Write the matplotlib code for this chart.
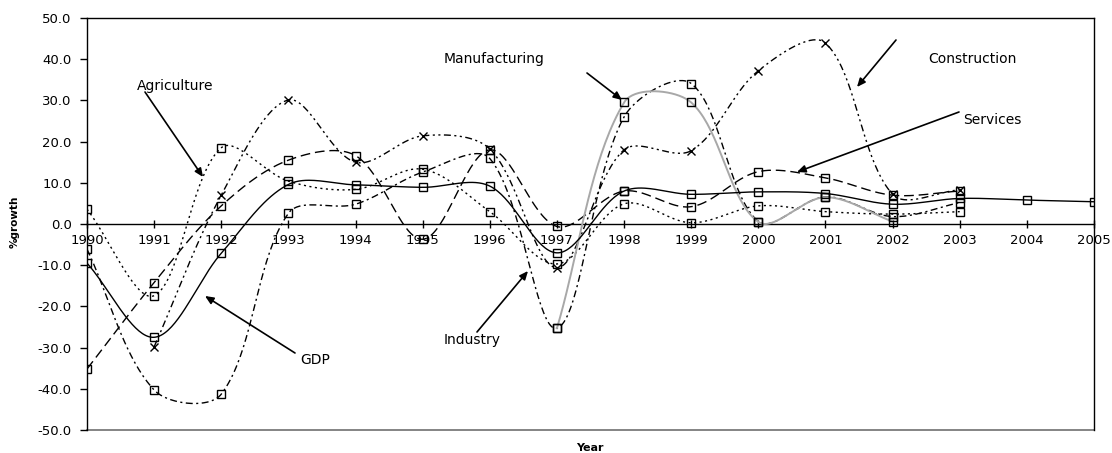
import numpy as np
import matplotlib
matplotlib.use("Agg")
import matplotlib.pyplot as plt

plt.rcParams['font.family'] = ['DejaVu Sans']

# ---- data ----
gdp_years = list(range(1990, 2006))
gdp = [-9.5, -27.5, -7.1, 9.6, 9.5, 8.9, 9.2, -7.0, 8.0, 7.2, 7.8, 7.4, 4.8, 6.2, 5.8, 5.4]

agri_years = list(range(1990, 2004))
agriculture = [3.6, -17.4, 18.5, 10.4, 8.4, 13.3, 3.0, -9.7, 4.9, 0.3, 4.4, 3.0, 2.4, 3.0]

ind_years = list(range(1990, 2004))
industry = [-6.1, -40.3, -41.3, 2.6, 4.8, 12.6, 15.9, -25.3, 26.0, 34.1, 0.6, 6.6, 1.8, 5.2]

serv_years = list(range(1990, 2004))
services = [-35.2, -14.2, 4.4, 15.5, 16.6, -3.7, 18.0, -0.6, 8.0, 4.2, 12.7, 11.2, 7.0, 8.0]

cons_years = list(range(1991, 2004))
construction = [-29.8, 7.0, 30.1, 15.0, 21.4, 18.2, -10.6, 18.0, 17.8, 37.2, 43.9, 7.2, 8.3]

manu_years = list(range(1997, 2003))
manufacturing = [-25.3, 29.5, 29.5, 0.5, 6.5, 0.6]

year_ticks = list(range(1990, 2006))
y_ticks = list(range(-50, 51, 10))

W, H = 1112, 453
L, R, T, B = 87, 1094, 18, 430
SX = (R - L) / 15.0      # pixels per year
SY = (B - T) / 100.0     # pixels per % point


def smooth(xs, ys, n=40):
    """Excel-style smoothed line: Bezier segments whose control points follow the
    neighbour chord, scaled by the on-screen segment lengths."""
    P = np.column_stack([np.asarray(xs, float), np.asarray(ys, float)])
    S = np.array([SX, SY])
    m = len(P)

    def dist(a, b):
        return float(np.hypot(*((b - a) * S)))

    out = [P[0]]
    t = np.linspace(0, 1, n)[1:, None]
    for i in range(m - 1):
        p0 = P[i]
        p3 = P[i + 1]
        prev = P[i - 1] if i > 0 else P[i]
        nxt = P[i + 2] if i + 2 < m else P[i + 1]
        d_prev, d_cur, d_next = dist(prev, p0), dist(p0, p3), dist(p3, nxt)
        f1 = d_cur / (d_prev + d_cur) / 3.0 if (d_prev + d_cur) > 0 else 0
        f2 = d_cur / (d_cur + d_next) / 3.0 if (d_cur + d_next) > 0 else 0
        c1 = p0 + (p3 - prev) * f1
        c2 = p3 - (nxt - p0) * f2
        seg = ((1 - t) ** 3) * p0 + 3 * ((1 - t) ** 2) * t * c1 + 3 * (1 - t) * t ** 2 * c2 + t ** 3 * p3
        out.extend(seg)
    out = np.array(out)
    return out[:, 0], out[:, 1]


fig = plt.figure(figsize=(W / 100, H / 100), dpi=100)
ax = fig.add_axes([L / W, 1 - B / H, (R - L) / W, (B - T) / H])
ax.set_xlim(1990, 2005)
ax.set_ylim(-50, 50)

series = [
    (serv_years, services, dict(color='black', lw=1.0, dashes=(7, 3.5)), 's'),
    (cons_years, construction, dict(color='black', lw=1.0, dashes=(5, 2.5, 1.5, 2.5, 1.5, 2.5)), 'x'),
    (ind_years, industry, dict(color='black', lw=1.0, dashes=(5, 2.5, 1.5, 2.5)), 's'),
    (agri_years, agriculture, dict(color='black', lw=1.0, dashes=(1.5, 2.5)), 's'),
    (manu_years, manufacturing, dict(color='#a8a8a8', lw=1.4), 's'),
    (gdp_years, gdp, dict(color='black', lw=1.0), 's'),
]
for xs, ys, style, mk in series:
    sx, sy = smooth(xs, ys)
    ax.plot(sx, sy, zorder=3, **style)
    if mk == 's':
        ax.plot(xs, ys, linestyle='none', marker='s', markersize=5.5, mfc='none',
                mec='black', mew=1.0, zorder=4)
    else:
        ax.plot(xs, ys, linestyle='none', marker='x', markersize=6, mec='black',
                mew=1.0, zorder=4)

# axes / frame
ax.spines['bottom'].set_position(('data', 0))
ax.spines['bottom'].set_linewidth(1.0)
for s in ['left', 'top', 'right']:
    ax.spines[s].set_color('black')
    ax.spines[s].set_linewidth(1.0)
ax.axhline(-50, color='#707070', lw=1.2, clip_on=False, zorder=1)

ax.set_xticks(year_ticks)
ax.set_xticklabels([str(y) for y in year_ticks])
ax.tick_params(axis='x', direction='inout', length=6, width=1, pad=4, labelsize=9.5)
ax.set_yticks(y_ticks)
ax.set_yticklabels(['%.1f' % v for v in y_ticks])
ax.tick_params(axis='y', direction='out', length=5, width=1, pad=6, labelsize=9.5)

fig.text(15 / W, 1 - 222 / H, '%growth', rotation=90, ha='center', va='center',
         fontsize=7.5, fontweight='bold')
fig.text(590 / W, 1 - 448 / H, 'Year', ha='center', va='center', fontsize=8, fontweight='bold')


def px2d(px, py):
    return (1990 + (px - L) / SX, 50 - (py - T) / SY)


labels = [
    ('Agriculture', (137, 86), (145, 92), (203, 177)),
    ('Manufacturing', (444, 59), (587, 73), (622, 100)),
    ('Construction', (928, 59), (896, 40), (857, 87)),
    ('Services', (963, 120), (959, 112), (797, 172)),
    ('Industry', (444, 340), (477, 332), (528, 271)),
    ('GDP', (300, 360), (295, 353), (205, 296)),
]
for txt, tp, tail, head in labels:
    ax.text(*px2d(*tp), txt, ha='left', va='center', fontsize=10, zorder=6)
    ax.annotate('', xy=px2d(*head), xytext=px2d(*tail),
                arrowprops=dict(arrowstyle='-|>,head_length=0.5,head_width=0.22',
                                color='black', lw=1.2, shrinkA=0, shrinkB=0),
                zorder=6)

fig.savefig('out.png', dpi=100)
